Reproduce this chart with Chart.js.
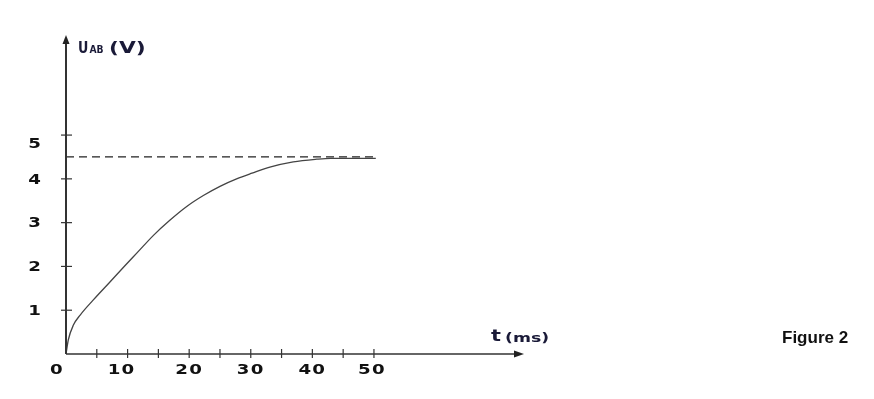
<!DOCTYPE html>
<html>
<head>
<meta charset="utf-8">
<script src="https://cdn.jsdelivr.net/npm/chart.js@4/dist/chart.umd.min.js"></script>
<style>
html,body{margin:0;padding:0;background:#fff;}
#wrap{position:relative;width:874px;height:399px;}
</style>
</head>
<body>
<div id="wrap"><canvas id="c" width="874" height="399"></canvas></div>
<script>
// ---- data ----
const timeMs  = [0, 0.37, 1.2, 2.3, 4.4, 7.1, 9.6, 11.6, 14.2, 16.9, 19.6, 22.3, 25, 27.7, 30.2, 33.1, 36.9, 40.7, 43, 50.3];
const voltage = [0, 0.32, 0.66, 0.89, 1.23, 1.64, 2.02, 2.32, 2.71, 3.06, 3.37, 3.62, 3.83, 4.0, 4.13, 4.27, 4.39, 4.45, 4.47, 4.47];
const asymptoteValue = 4.5;
const asymptoteEnd = 50.6;
const xTickValues = [5, 10, 15, 20, 25, 30, 35, 40, 45, 50];
const xLabelValues = [0, 10, 20, 30, 40, 50];
const xTickLabels = ["0", "10", "20", "30", "40", "50"];
const yTickValues = [1, 2, 3, 4, 5];
const yTickLabels = ["1", "2", "3", "4", "5"];
const xMax = 74.2;
const yMax = 7.24;

const curvePts = timeMs.map((t, i) => ({x: t, y: voltage[i]}));
const asymPts = [{x: 0, y: asymptoteValue}, {x: asymptoteEnd, y: asymptoteValue}];

function stretchText(ctx, text, x, y, font, sx, align) {
  ctx.save();
  ctx.font = font;
  const w = ctx.measureText(text).width * sx;
  let left = x;
  if (align === 'right') left = x - w;
  else if (align === 'center') left = x - w / 2;
  ctx.translate(left, y);
  ctx.scale(sx, 1);
  ctx.textAlign = 'left';
  ctx.fillText(text, 0, 0);
  ctx.restore();
  return w;
}

const axisPlugin = {
  id: 'handAxes',
  afterDatasetsDraw(chart) {
    const ctx = chart.ctx;
    const xs = chart.scales.x, ys = chart.scales.y;
    const x0 = xs.getPixelForValue(0), y0 = ys.getPixelForValue(0);
    const xEnd = xs.getPixelForValue(xMax), yTop = ys.getPixelForValue(yMax);
    ctx.save();
    ctx.strokeStyle = '#333';
    ctx.fillStyle = '#222';
    // y axis
    ctx.lineWidth = 2;
    ctx.beginPath(); ctx.moveTo(x0, y0); ctx.lineTo(x0, yTop + 4); ctx.stroke();
    ctx.beginPath(); ctx.moveTo(x0, yTop - 2); ctx.lineTo(x0 - 3.5, yTop + 7); ctx.lineTo(x0 + 3.5, yTop + 7); ctx.closePath(); ctx.fill();
    // x axis
    ctx.lineWidth = 1.5;
    ctx.beginPath(); ctx.moveTo(x0, y0); ctx.lineTo(xEnd - 4, y0); ctx.stroke();
    ctx.beginPath(); ctx.moveTo(xEnd + 1, y0); ctx.lineTo(xEnd - 9, y0 - 3.5); ctx.lineTo(xEnd - 9, y0 + 3.5); ctx.closePath(); ctx.fill();
    // ticks
    ctx.lineWidth = 1.2;
    yTickValues.forEach(v => {
      const p = ys.getPixelForValue(v);
      ctx.beginPath(); ctx.moveTo(x0 - 5, p); ctx.lineTo(x0 + 6, p); ctx.stroke();
    });
    xTickValues.forEach(v => {
      const p = xs.getPixelForValue(v);
      ctx.beginPath(); ctx.moveTo(p, y0 - 5); ctx.lineTo(p, y0 + 4); ctx.stroke();
    });
    // tick labels
    ctx.fillStyle = '#111';
    ctx.textBaseline = 'middle';
    const digitFont = 'bold 14px "DejaVu Sans"';
    yTickValues.forEach((v, i) => {
      const nudge = v === 5 ? 8 : 0;
      stretchText(ctx, yTickLabels[i], x0 - 25, ys.getPixelForValue(v) + 1 + nudge, digitFont, 1.3, 'right');
    });
    try { ctx.letterSpacing = '1px'; } catch (e) {}
    xLabelValues.forEach((v, i) => {
      let p = xs.getPixelForValue(v);
      if (v === 0) p -= 9;
      if (v === 10) p -= 6;
      if (v === 50) p -= 2;
      stretchText(ctx, xTickLabels[i], p, y0 + 16, digitFont, 1.3, 'center');
    });
    try { ctx.letterSpacing = '0px'; } catch (e) {}
    // axis titles
    ctx.textBaseline = 'alphabetic';
    ctx.fillStyle = '#1a1a38';
    stretchText(ctx, 'U', 78, 53, 'bold 15px "DejaVu Sans"', 0.85, 'left');
    stretchText(ctx, 'AB', 89.5, 53, 'bold 10px "DejaVu Sans"', 0.92, 'left');
    stretchText(ctx, '(V)', 109, 53, 'bold 15px "DejaVu Sans"', 1.45, 'left');
    // t (ms)
    stretchText(ctx, 't', 491, 341, 'bold 16px "DejaVu Sans"', 1.3, 'left');
    stretchText(ctx, '(ms)', 505, 342, 'bold 13px "DejaVu Sans"', 1.33, 'left');
    // Figure caption
    ctx.fillStyle = '#111';
    stretchText(ctx, 'Figure 2', 782, 343, 'bold 17px "Liberation Sans"', 1.0, 'left');
    ctx.restore();
  }
};

new Chart(document.getElementById('c'), {
  type: 'scatter',
  data: {
    datasets: [
      {data: curvePts, showLine: true, borderColor: '#444', borderWidth: 1.3, pointRadius: 0, cubicInterpolationMode: 'monotone', fill: false},
      {data: asymPts, showLine: true, borderColor: '#222', borderWidth: 1.2, borderDash: [8, 5], pointRadius: 0, fill: false}
    ]
  },
  options: {
    responsive: false,
    animation: false,
    layout: {padding: {left: 66, right: 874 - 523, top: 37, bottom: 399 - 354}},
    plugins: {legend: {display: false}, tooltip: {enabled: false}},
    scales: {
      x: {type: 'linear', min: 0, max: xMax, display: false},
      y: {type: 'linear', min: 0, max: yMax, display: false}
    }
  },
  plugins: [axisPlugin]
});
</script>
</body>
</html>
